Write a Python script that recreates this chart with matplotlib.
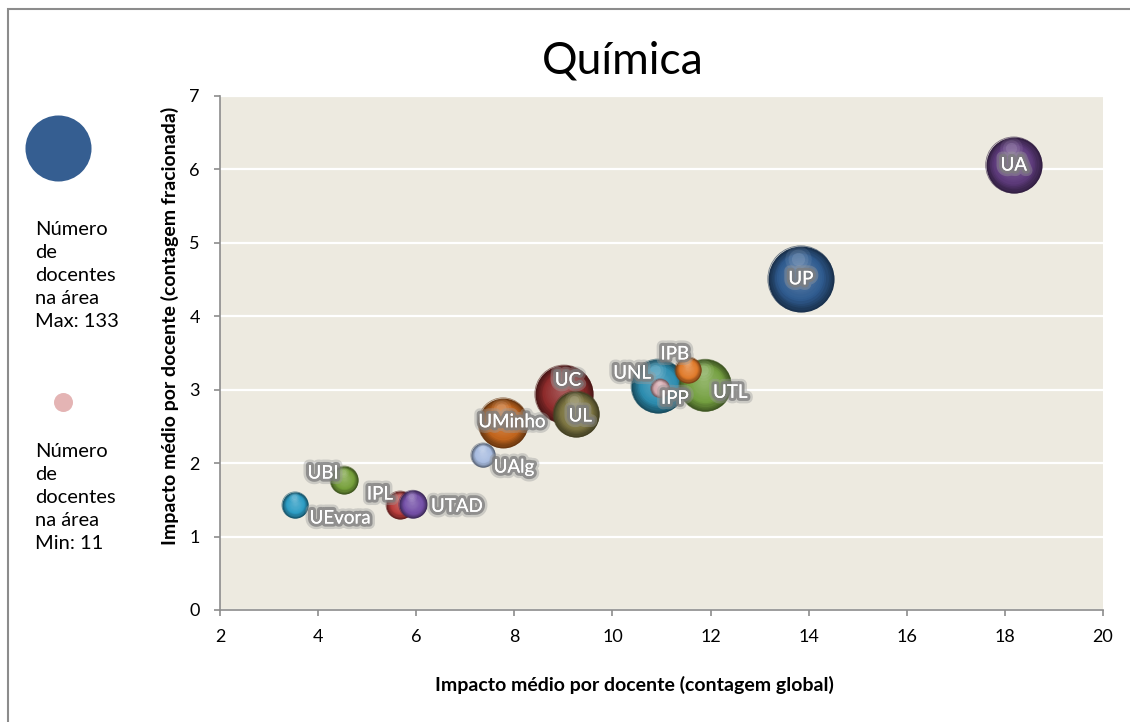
import numpy as np
import matplotlib
matplotlib.use("Agg")
import matplotlib.pyplot as plt
import matplotlib.patheffects as pe
from matplotlib.colors import to_rgb
from matplotlib.patches import Rectangle
from matplotlib.transforms import offset_copy

plt.rcParams['font.family'] = ['Lato', 'DejaVu Sans']

# data
names = ['UA', 'UP', 'UC', 'UL', 'UMinho', 'UAlg', 'UBI', 'UEvora',
         'IPL', 'UTAD', 'UNL', 'UTL', 'IPB', 'IPP']
impacto_global = [18.18, 13.84, 9.01, 9.26, 7.77, 7.36, 4.53, 3.53,
                  5.67, 5.93, 10.93, 11.89, 11.54, 10.97]
impacto_frac = [6.06, 4.51, 2.94, 2.67, 2.55, 2.11, 1.77, 1.43,
                1.43, 1.44, 3.05, 3.06, 3.27, 3.02]
docentes = [96, 133, 103, 65, 76, 18, 24, 21, 24, 24, 89, 83, 21, 11]
colors = ['#5e3b7c', '#2f5b8f', '#8e2b2b', '#7d7642', '#c4661d', '#a8bce0',
          '#76a03a', '#2c9cc4', '#b83c3a', '#7450a8', '#2d8db0', '#74a040',
          '#e07a2a', '#d4a8ae']
# label offsets (px) relative to bubble centre, like Excel label placement
label_off = {'UA': (0, 0), 'UP': (0, 0), 'UC': (4, 14), 'UL': (4, -2),
             'UMinho': (9, 1), 'UAlg': (31, -12), 'UBI': (-21, 7),
             'UEvora': (45, -13), 'IPL': (-20, 11), 'UTAD': (44, -2),
             'UNL': (-26, 13), 'UTL': (25, -7), 'IPB': (-13, 16),
             'IPP': (15, -10)}

size_k = 17.0  # marker area (pt^2) per docente

fig = plt.figure(figsize=(11.3, 7.22), dpi=100)
ax = fig.add_axes([220 / 1130, 1 - 610 / 722, 883 / 1130, 514 / 722])
ax.set_facecolor('#edeae0')
ax.set_xlim(2, 20)
ax.set_ylim(0, 7)
ax.set_xticks(np.arange(2, 21, 2))
ax.set_yticks(np.arange(0, 8, 1))
ax.grid(axis='y', color='white', lw=1.6)
ax.set_axisbelow(True)
for side in ['top', 'right']:
    ax.spines[side].set_visible(False)
for side in ['left', 'bottom']:
    ax.spines[side].set_color('#8c8c8c')
    ax.spines[side].set_linewidth(1.2)
ax.tick_params(colors='#8c8c8c', length=4.5, width=1.2, labelsize=13,
               labelcolor='black')
ax.tick_params(axis='x', pad=9)
ax.tick_params(axis='y', pad=10)


def mix(c1, c2, t):
    a, b = np.array(to_rgb(c1)), np.array(to_rgb(c2))
    return tuple(a + (b - a) * t)


def sphere(ax, x, y, s, color, z):
    r = np.sqrt(s) / 2
    dark = mix(color, 'black', 0.45)
    light = mix(color, 'white', 0.2)
    for t in np.linspace(0, 1, 16):
        f = 1 - 0.85 * t
        if t < 0.35:
            col = mix(dark, color, t / 0.35)
        else:
            col = mix(color, light, (t - 0.35) / 0.65)
        tr = offset_copy(ax.transData, fig=fig, x=-0.04 * r * t,
                         y=0.15 * r * t, units='points')
        ax.scatter([x], [y], s=s * f * f, color=col, lw=0, transform=tr,
                   zorder=z)
    # soft top highlight
    for k, a in [(0.16, 0.12), (0.09, 0.15), (0.04, 0.2)]:
        tr = offset_copy(ax.transData, fig=fig, x=-0.1 * r, y=0.6 * r,
                         units='points')
        ax.scatter([x], [y], s=s * k, color=mix(color, 'white', 0.6),
                   alpha=a, lw=0, transform=tr, zorder=z)
    # thin dark rim
    ax.scatter([x], [y], s=s, facecolor='none', edgecolor=dark, lw=0.6,
               alpha=0.6, zorder=z)


order = np.argsort(docentes)[::-1]
for rank, i in enumerate(order):
    sphere(ax, impacto_global[i], impacto_frac[i], docentes[i] * size_k,
           colors[i], 3 + rank * 0.01)

glow = [pe.withStroke(linewidth=8, foreground='#9a9a9a', alpha=0.4),
        pe.withStroke(linewidth=4.5, foreground='#7c7c7c', alpha=0.75),
        pe.Normal()]
for i, n in enumerate(names):
    dx, dy = label_off[n]
    ax.annotate(n, (impacto_global[i], impacto_frac[i]),
                xytext=(dx * 0.72, dy * 0.72), textcoords='offset points',
                ha='center', va='center', fontsize=13.5, color='white',
                path_effects=glow, zorder=10)

fig.text(623 / 1130, 1 - 74 / 722, 'Química', fontsize=32, ha='center',
         va='baseline')
fig.text(634 / 1130, 1 - 685 / 722,
         'Impacto médio por docente (contagem global)', fontsize=14,
         fontweight='bold', ha='center', va='center')
fig.text(170 / 1130, 1 - 326 / 722,
         'Impacto médio por docente (contagem fracionada)', fontsize=14,
         fontweight='bold', rotation=90, ha='center', va='center')

# size key on the left
leg = fig.add_axes([0, 0, 1, 1], zorder=-1)
leg.set_xlim(0, 1130)
leg.set_ylim(722, 0)
leg.axis('off')
leg.scatter([58], [148], s=max(docentes) * size_k, color='#355e91', lw=0)
leg.scatter([63], [402], s=min(docentes) * size_k, color='#e4b4b4', lw=0)
leg.text(35, 221, 'Número\nde\ndocentes\nna área\nMax: %d' % max(docentes),
         fontsize=14.5, va='top', linespacing=1.42)
leg.text(35, 443, 'Número\nde\ndocentes\nna área\nMin: %d' % min(docentes),
         fontsize=14.5, va='top', linespacing=1.42)

fig.add_artist(Rectangle((8 / 1130, -0.2), 1.2, 1.2 - 9 / 722,
                         transform=fig.transFigure, fill=False,
                         ec='#8c8c8c', lw=1.5))

fig.savefig('out.png', dpi=100)
